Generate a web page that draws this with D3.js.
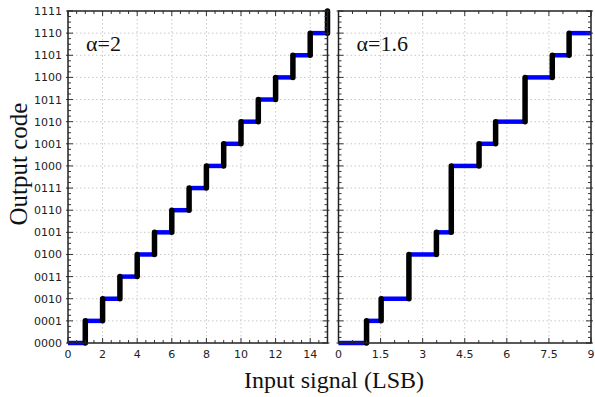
<!DOCTYPE html>
<html>
<head>
<meta charset="utf-8">
<script src="https://cdn.jsdelivr.net/npm/d3@7"></script>
<style>
  body { margin: 0; background: #fff; }
  svg { display: block; }
</style>
</head>
<body>
<svg id="chart"></svg>
<script>
// output code tick labels
const codeLabels = ['0000', '0001', '0010', '0011', '0100', '0101', '0110', '0111',
  '1000', '1001', '1010', '1011', '1100', '1101', '1110', '1111'];

// alpha = 2 : code switches to leftY[i] at input leftX[i]
const leftX = [0, 1, 2, 3, 4, 5, 6, 7, 8, 9, 10, 11, 12, 13, 14, 15];
const leftY = [0, 1, 2, 3, 4, 5, 6, 7, 8, 9, 10, 11, 12, 13, 14, 15];
const leftTicks = [0, 2, 4, 6, 8, 10, 12, 14];

// alpha = 1.6
const rightX = [0, 1.0, 1.52, 2.51, 3.49, 4.02, 5.01, 5.6, 6.65, 7.62, 8.22];
const rightY = [0, 1, 2, 4, 5, 8, 9, 10, 12, 13, 14];
const rightTicks = [0, 1.5, 3, 4.5, 6, 7.5, 9];

const W = 595, H = 397;
const plotTop = 11, plotBottom = 343;

const svg = d3.select('#chart').attr('width', W).attr('height', H);

const y = d3.scaleLinear().domain([0, 15]).range([plotBottom, plotTop]);

const panels = [
  { x0: 68, x1: 327.5, dom: [0, 15], xs: leftX, ys: leftY, ticks: leftTicks, label: 'α=2', showY: true },
  { x0: 338.5, x1: 591, dom: [0, 9], xs: rightX, ys: rightY, ticks: rightTicks, label: 'α=1.6', showY: false }
];

panels.forEach(p => {
  const x = d3.scaleLinear().domain(p.dom).range([p.x0, p.x1]);
  const g = svg.append('g');

  // grid
  g.selectAll('.gy').data(d3.range(1, 15)).enter().append('line')
    .attr('x1', p.x0).attr('x2', p.x1)
    .attr('y1', d => y(d)).attr('y2', d => y(d))
    .attr('stroke', '#c8c8c8').attr('stroke-dasharray', '1.5,2.5');
  g.selectAll('.gx').data(p.ticks.filter(t => t > p.dom[0] && t < p.dom[1])).enter().append('line')
    .attr('x1', d => x(d)).attr('x2', d => x(d))
    .attr('y1', plotTop).attr('y2', plotBottom)
    .attr('stroke', '#c8c8c8').attr('stroke-dasharray', '1.5,2.5');

  // step data
  const xmax = p.dom[1];
  const hz = p.xs.map((v, i) => ({ a: v, b: i < p.xs.length - 1 ? p.xs[i + 1] : xmax, c: p.ys[i] }))
    .filter(d => d.b > d.a);
  const vt = p.xs.slice(1).map((v, i) => ({ x: v, c0: p.ys[i], c1: p.ys[i + 1] }));

  g.selectAll('.hz').data(hz).enter().append('line')
    .attr('x1', d => x(d.a)).attr('x2', d => x(d.b))
    .attr('y1', d => y(d.c)).attr('y2', d => y(d.c))
    .attr('stroke', '#0000ff').attr('stroke-width', 4.5);
  g.selectAll('.vt').data(vt).enter().append('line')
    .attr('x1', d => x(d.x)).attr('x2', d => x(d.x))
    .attr('y1', d => y(d.c0)).attr('y2', d => y(d.c1))
    .attr('stroke', '#000').attr('stroke-width', 5.5).attr('stroke-linecap', 'round');

  // minor / major ticks
  const axisCol = '#333';
  const minorX = d3.range(p.dom[0], p.dom[1] + 0.001, 0.5);
  [plotBottom, plotTop].forEach((yy, k) => {
    const dir = k === 0 ? -1 : 1;
    g.selectAll(null).data(minorX).enter().append('line')
      .attr('x1', d => x(d)).attr('x2', d => x(d))
      .attr('y1', yy).attr('y2', d => yy + dir * (p.ticks.includes(d) ? 5 : 3))
      .attr('stroke', axisCol).attr('stroke-width', 1);
  });
  const minorY = d3.range(0, 15.001, 0.25);
  [p.x0, p.x1].forEach((xx, k) => {
    const dir = k === 0 ? 1 : -1;
    g.selectAll(null).data(minorY).enter().append('line')
      .attr('y1', d => y(d)).attr('y2', d => y(d))
      .attr('x1', d => (Number.isInteger(d) ? xx - dir * 2 : xx))
      .attr('x2', d => xx + dir * (Number.isInteger(d) ? 5 : 3))
      .attr('stroke', axisCol).attr('stroke-width', 1);
  });

  // frame
  g.append('rect').attr('x', p.x0).attr('y', plotTop)
    .attr('width', p.x1 - p.x0).attr('height', plotBottom - plotTop)
    .attr('fill', 'none').attr('stroke', '#222').attr('stroke-width', 1.5);

  // x tick labels
  g.selectAll('.xl').data(p.ticks).enter().append('text')
    .attr('x', d => x(d)).attr('y', 358)
    .attr('text-anchor', 'middle')
    .attr('font-family', 'DejaVu Sans').attr('font-size', 11).attr('fill', '#222')
    .text(d => d);

  if (p.showY) {
    g.selectAll('.yl').data(codeLabels).enter().append('text')
      .attr('x', p.x0 - 6).attr('y', (d, i) => y(i) + 4)
      .attr('text-anchor', 'end')
      .attr('font-family', 'DejaVu Sans').attr('font-size', 11).attr('fill', '#222')
      .text(d => d);
  }

  g.append('text')
    .attr('x', p.x0 + 18).attr('y', 51)
    .attr('font-family', 'Liberation Serif').attr('font-size', 22).attr('fill', '#111')
    .text(p.label);
});

svg.append('text')
  .attr('transform', 'translate(27,' + 164 + ') rotate(-90)')
  .attr('text-anchor', 'middle')
  .attr('font-family', 'Liberation Serif').attr('font-size', 25).attr('fill', '#111')
  .text('Output code');

svg.append('text')
  .attr('x', 334).attr('y', 388)
  .attr('text-anchor', 'middle')
  .attr('font-family', 'Liberation Serif').attr('font-size', 24).attr('fill', '#111')
  .text('Input signal (LSB)');
</script>
</body>
</html>
